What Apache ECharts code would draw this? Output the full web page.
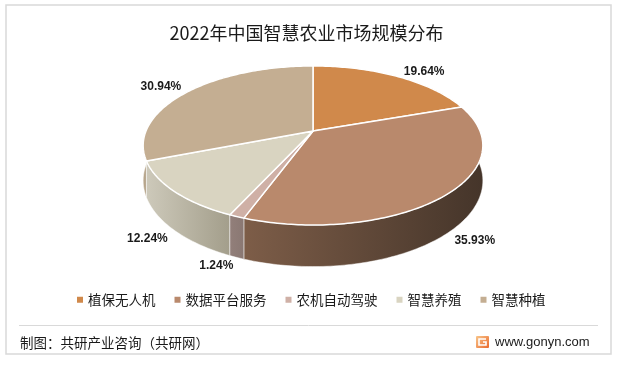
<!DOCTYPE html>
<html><head><meta charset="utf-8">
<script src="https://cdn.jsdelivr.net/npm/echarts@6/dist/echarts.min.js"></script>
<style>html,body{margin:0;padding:0;background:#fff}#c{width:620px;height:365px}</style>
</head><body><div id="c"></div>
<script>
// ---- data ----
const categories = ['植保无人机', '数据平台服务', '农机自动驾驶', '智慧养殖', '智慧种植'];
const values = [19.64, 35.93, 1.24, 12.24, 30.94];
const valueLabels = values.map(v => v.toFixed(2) + '%');

// ---- styles ----
const topColors = ['#D0894B', '#B9896C', '#CFB0A6', '#D9D4C1', '#C4AE92'];
const wallColors = [
  ['#9A6436', '#7A4E2A'],
  ['#7D5D48', '#45352A'],
  ['#927F7A', '#8A7873'],
  ['#CDC9BA', '#A39E8B'],
  ['#B8A68C', '#9E8C74']
];

// ---- 3D projection layout ----
const CX = 313, CY = 131, R = 167, T = 0.4605, P = 0.182, H = 34;
const total = values.reduce((a, b) => a + b, 0);
const starts = [], ends = [];
let acc = 0;
values.forEach(v => { starts.push(acc / total * 2 * Math.PI); acc += v; ends.push(acc / total * 2 * Math.PI); });

function proj(phi, r) {
  r = r || 1;
  const X = Math.sin(phi) * r, Z = -Math.cos(phi) * r;
  const s = 1 / (1 - P * Z);
  return { x: CX + R * X * s, y: CY + R * T * Z * s, s: s, X: X, Z: Z };
}
function arc(a, b) {
  const n = Math.max(2, Math.ceil((b - a) / (Math.PI / 180)));
  const pts = [];
  for (let i = 0; i <= n; i++) pts.push(proj(a + (b - a) * i / n));
  return pts;
}

const chart = echarts.init(document.getElementById('c'), null, { renderer: 'canvas' });
const seriesData = values.map((v, i) => ({ name: categories[i], value: v, itemStyle: { color: topColors[i] } }));

function renderWall(params, api) {
  const i = params.dataIndex;
  const top = arc(starts[i], ends[i]);
  const pts = top.map(p => [p.x, p.y]);
  for (let k = top.length - 1; k >= 0; k--) pts.push([top[k].x, top[k].y + H * top[k].s]);
  const xs = pts.map(p => p[0]);
  const minX = Math.min.apply(null, xs), maxX = Math.max.apply(null, xs);
  const mid = proj((starts[i] + ends[i]) / 2);
  return {
    type: 'polygon',
    z2: Math.round(mid.Z * 100) + 200,
    shape: { points: pts },
    style: {
      fill: new echarts.graphic.LinearGradient(minX, 0, maxX, 0, [
        { offset: 0, color: wallColors[i][0] },
        { offset: 1, color: wallColors[i][1] }
      ], true),
      stroke: 'rgba(255,255,255,0.6)', lineWidth: 0.8
    }
  };
}

function renderTop(params, api) {
  const i = params.dataIndex;
  const top = arc(starts[i], ends[i]);
  const pts = [[CX, CY]].concat(top.map(p => [p.x, p.y]));
  const mid = proj((starts[i] + ends[i]) / 2);
  const lx = mid.x + Math.sign(mid.X) * 27 * Math.min(1, Math.abs(mid.X) / 0.5);
  const ly = mid.y + (mid.Z > 0 ? H * mid.s + 8 : -5);
  return {
    type: 'group',
    children: [
      { type: 'polygon', z2: 10, shape: { points: pts },
        style: { fill: topColors[i], stroke: '#ffffff', lineWidth: 1.5, lineJoin: 'round' } },
      { type: 'text', z2: 20, x: lx, y: ly,
        style: { text: valueLabels[i], fill: '#1a1a1a', font: 'bold 12px "Liberation Sans", Arial, sans-serif',
                 textAlign: 'center', textVerticalAlign: 'middle' } }
    ]
  };
}

chart.setOption({
  animation: false,
  color: topColors,
  legend: {
    data: categories,
    left: 77, top: 293, padding: 0,
    icon: 'rect', itemWidth: 6, itemHeight: 6, itemGap: 19,
    textStyle: { fontSize: 13.5, color: '#1a1a1a', fontFamily: '"Noto Sans CJK SC", sans-serif' },
    selectedMode: false
  },
  graphic: [
    { type: 'rect', z: -10, shape: { x: 6, y: 5, width: 605, height: 349 },
      style: { fill: 'none', stroke: '#D9D9D9', lineWidth: 1.5 } },
    { type: 'line', shape: { x1: 19, y1: 325.5, x2: 598, y2: 325.5 },
      style: { stroke: '#D9D9D9', lineWidth: 1 } },
    { type: 'text', x: 306.5, y: 33,
      style: { text: '2022年中国智慧农业市场规模分布', fill: '#1a1a1a',
               font: '18px "Noto Sans CJK SC", sans-serif', textAlign: 'center', textVerticalAlign: 'middle' } },
    { type: 'text', x: 20, y: 343,
      style: { text: '制图：共研产业咨询（共研网）', fill: '#1a1a1a',
               font: '13.5px "Noto Sans CJK SC", sans-serif', textAlign: 'left', textVerticalAlign: 'middle' } },
    { type: 'rect', shape: { x: 476, y: 336, width: 13, height: 12, r: 1 },
      style: { fill: new echarts.graphic.LinearGradient(0, 0, 1, 1, [
        { offset: 0, color: '#F8C58A' }, { offset: 1, color: '#EA6A2E' }]) } },
    { type: 'polyline', shape: { points: [[486, 339], [479, 339], [479, 345], [486, 345], [486, 342], [483, 342]] },
      style: { stroke: '#ffffff', lineWidth: 1.6, fill: 'none' } },
    { type: 'text', x: 495, y: 342,
      style: { text: 'www.gonyn.com', fill: '#1a1a1a',
               font: '13px "Liberation Sans", Arial, sans-serif', textAlign: 'left', textVerticalAlign: 'middle' } }
  ],
  series: [
    { name: 'legend-proxy', type: 'pie', radius: [0, 0], center: [-100, -100], silent: true,
      label: { show: false }, labelLine: { show: false }, data: seriesData },
    { name: 'walls', type: 'custom', coordinateSystem: 'none', z: 2, silent: true,
      renderItem: renderWall, data: seriesData },
    { name: 'tops', type: 'custom', coordinateSystem: 'none', z: 3, silent: true,
      renderItem: renderTop, data: seriesData }
  ]
});
</script>
</body></html>
